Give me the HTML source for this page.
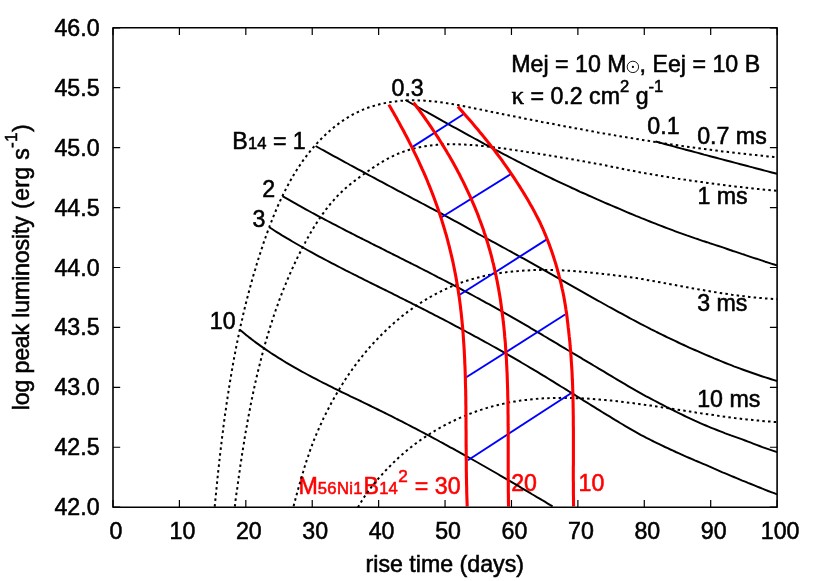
<!DOCTYPE html>
<html><head><meta charset="utf-8"><title>chart</title>
<style>html,body{margin:0;padding:0;background:#fff}body{width:830px;height:581px;position:relative;overflow:hidden;font-family:"Liberation Sans",sans-serif}</style></head>
<body>
<svg width="830" height="581" viewBox="0 0 830 581" style="position:absolute;left:0;top:0;will-change:transform;font-family:'Liberation Sans',sans-serif;font-size:23.2px" fill="#000" stroke="none">
<style>text{stroke-width:0.55px;stroke:#000}.r text{stroke:#ff0000}</style>
<defs><clipPath id="cp"><rect x="113.0" y="27.8" width="664.1" height="479.4"/></clipPath></defs>
<g class="r" fill="#ff0000">
<text x="298.4" y="493.7">M<tspan font-size="16.6" letter-spacing="0.35">56Ni1</tspan><tspan dx="0.7">B</tspan><tspan font-size="16.6" dx="0.3">14</tspan><tspan font-size="17.2" dy="-12.2" dx="0.4">2</tspan><tspan dy="12.2" dx="0.6"> = 30</tspan></text>
<text x="511.2" y="490.7">20</text>
<text x="578.6" y="490.7">10</text>
</g>
<g clip-path="url(#cp)" fill="none" stroke-linejoin="round">
<path d="M655.5 141.5L658.5 142.3L661.6 143.1L664.6 144.0L667.6 144.8L670.7 145.6L673.7 146.4L676.7 147.2L679.8 148.1L682.8 148.9L685.8 149.7L688.9 150.5L691.9 151.3L694.9 152.1L698.0 152.9L701.0 153.7L704.0 154.6L707.1 155.4L710.1 156.2L713.1 157.0L716.2 157.8L719.2 158.6L722.2 159.4L725.3 160.2L728.3 161.0L731.3 161.8L734.4 162.6L737.4 163.4L740.5 164.2L743.5 165.0L746.5 165.8L749.6 166.6L752.6 167.4L755.6 168.2L758.7 169.0L761.7 169.8L764.7 170.6L767.8 171.4L770.8 172.2L773.9 173.0L776.9 173.8" stroke="#000" stroke-width="1.95"/>
<path d="M405.4 100.0L408.1 101.5L410.7 103.0L413.4 104.5L416.0 106.0L418.7 107.5L421.3 109.0L423.9 110.5L426.6 111.9L429.2 113.4L431.9 114.9L434.6 116.4L437.2 117.9L439.9 119.4L442.5 120.9L445.2 122.3L447.8 123.8L450.5 125.3L453.2 126.8L455.8 128.2L458.5 129.7L461.2 131.2L463.8 132.6L466.5 134.1L469.2 135.6L471.8 137.0L474.5 138.5L477.2 139.9L479.9 141.4L482.5 142.8L485.2 144.3L487.9 145.7L490.6 147.1L493.3 148.6L496.0 150.0L498.6 151.4L501.3 152.9L504.0 154.3L506.7 155.7L509.4 157.1L512.1 158.5L514.8 159.9L517.5 161.3L520.2 162.7L522.9 164.1L525.6 165.5L528.4 166.9L531.1 168.3L533.8 169.7L536.5 171.0L539.2 172.4L541.9 173.7L544.7 175.1L547.4 176.4L550.1 177.7L552.8 179.0L555.6 180.3L558.3 181.6L561.0 182.9L563.8 184.2L566.5 185.4L569.3 186.7L572.0 188.0L574.7 189.2L577.5 190.5L580.2 191.8L583.0 193.0L585.8 194.2L588.5 195.5L591.3 196.7L594.0 197.9L596.8 199.2L599.6 200.4L602.4 201.6L605.1 202.8L607.9 204.0L610.7 205.2L613.5 206.3L616.2 207.5L619.0 208.7L621.8 209.9L624.6 211.1L627.4 212.3L630.2 213.5L633.0 214.6L635.8 215.8L638.6 216.9L641.4 218.1L644.2 219.2L647.1 220.4L649.9 221.5L652.7 222.6L655.5 223.7L658.4 224.8L661.2 225.9L664.0 227.0L666.9 228.1L669.7 229.1L672.5 230.2L675.4 231.3L678.2 232.3L681.1 233.3L683.9 234.3L686.8 235.4L689.7 236.4L692.5 237.4L695.4 238.4L698.3 239.3L701.1 240.3L704.0 241.3L706.9 242.2L709.8 243.2L712.7 244.1L715.6 245.1L718.4 246.0L721.3 246.9L724.2 247.9L727.2 249.0L730.1 250.0L733.0 251.0L735.9 251.9L738.8 252.9L741.7 253.9L744.7 254.8L747.6 255.8L750.5 256.8L753.5 257.8L756.4 258.7L759.3 259.7L762.3 260.7L765.2 261.7L768.2 262.6L771.2 263.6L774.1 264.5L777.1 265.4" stroke="#000" stroke-width="1.95"/>
<path d="M315.6 146.0L318.2 147.5L320.9 149.0L323.6 150.4L326.2 151.9L328.9 153.3L331.5 154.8L334.2 156.3L336.8 157.7L339.5 159.2L342.2 160.6L344.8 162.1L347.5 163.5L350.1 165.0L352.8 166.4L355.5 167.9L358.1 169.3L360.8 170.7L363.5 172.2L366.1 173.6L368.8 175.1L371.5 176.5L374.2 177.9L376.8 179.4L379.5 180.8L382.2 182.2L384.8 183.6L387.5 185.1L390.2 186.5L392.9 187.9L395.5 189.3L398.2 190.8L400.9 192.2L403.6 193.6L406.2 195.0L408.9 196.4L411.6 197.9L414.3 199.3L417.0 200.7L419.6 202.1L422.3 203.5L425.0 204.9L427.7 206.3L430.4 207.8L433.0 209.2L435.7 210.6L438.4 212.0L441.1 213.4L443.7 214.9L446.4 216.4L449.1 217.8L451.8 219.3L454.5 220.8L457.1 222.2L459.8 223.7L462.5 225.2L465.2 226.7L467.8 228.1L470.5 229.6L473.2 231.1L475.9 232.6L478.5 234.1L481.2 235.5L483.9 237.0L486.5 238.4L489.2 239.8L491.9 241.3L494.5 242.7L497.2 244.2L499.8 245.6L502.5 247.1L505.2 248.5L507.8 250.0L510.5 251.4L513.1 252.9L515.8 254.3L518.4 255.8L521.1 257.3L523.7 258.7L526.4 260.2L529.0 261.7L531.7 263.2L534.3 264.7L537.0 266.2L539.6 267.7L542.3 269.2L544.9 270.7L547.6 272.1L550.2 273.6L552.9 275.1L555.5 276.6L558.2 278.1L560.8 279.6L563.5 281.1L566.1 282.6L568.7 284.1L571.4 285.7L574.0 287.2L576.7 288.7L579.3 290.2L582.0 291.7L584.6 293.1L587.2 294.6L589.9 296.1L592.5 297.6L595.2 299.1L597.8 300.6L600.5 302.0L603.1 303.5L605.8 305.0L608.4 306.5L611.1 307.9L613.8 309.4L616.4 310.8L619.1 312.3L621.7 313.7L624.4 315.2L627.1 316.6L629.7 318.1L632.4 319.5L635.1 320.9L637.8 322.3L640.5 323.8L643.1 325.1L645.8 326.5L648.5 327.9L651.2 329.3L653.9 330.6L656.6 332.0L659.3 333.3L662.0 334.7L664.7 336.0L667.4 337.3L670.2 338.6L672.9 339.9L675.6 341.2L678.3 342.5L681.1 343.8L683.8 345.0L686.6 346.3L689.3 347.6L692.1 348.8L694.8 350.0L697.6 351.2L700.3 352.4L703.1 353.6L705.9 354.8L708.7 356.0L711.5 357.2L714.2 358.4L717.0 359.5L719.8 360.7L722.7 361.8L725.5 363.0L728.3 364.1L731.1 365.2L733.9 366.3L736.8 367.3L739.6 368.4L742.5 369.5L745.3 370.5L748.2 371.5L751.0 372.5L753.9 373.5L756.8 374.5L759.6 375.5L762.5 376.5L765.4 377.4L768.3 378.3L771.2 379.2L774.1 380.1L777.1 381.0" stroke="#000" stroke-width="1.95"/>
<path d="M282.5 196.1L285.1 197.7L287.8 199.2L290.4 200.7L293.0 202.2L295.7 203.7L298.3 205.2L301.0 206.6L303.6 208.1L306.3 209.6L308.9 211.0L311.6 212.5L314.3 213.9L316.9 215.3L319.6 216.8L322.3 218.2L324.9 219.6L327.6 221.0L330.3 222.4L333.0 223.8L335.7 225.2L338.4 226.6L341.1 228.0L343.7 229.4L346.4 230.8L349.1 232.2L351.8 233.5L354.5 234.9L357.2 236.3L359.9 237.7L362.6 239.0L365.3 240.4L368.0 241.7L370.7 243.1L373.4 244.5L376.1 245.8L378.9 247.2L381.6 248.5L384.3 249.9L387.0 251.3L389.7 252.6L392.4 254.0L395.1 255.3L397.8 256.7L400.5 258.1L403.2 259.4L405.9 260.8L408.6 262.2L411.3 263.5L414.0 264.9L416.7 266.2L419.4 267.6L422.1 269.0L424.8 270.4L427.5 271.7L430.2 273.1L432.9 274.5L435.5 275.9L438.2 277.3L440.9 278.6L443.6 280.0L446.3 281.4L449.0 282.8L451.7 284.2L454.3 285.6L457.0 287.0L459.7 288.4L462.4 289.9L465.0 291.3L467.7 292.7L470.4 294.1L473.0 295.5L475.7 297.0L478.4 298.4L481.0 299.9L483.7 301.3L486.3 302.8L489.0 304.2L491.6 305.7L494.3 307.2L496.9 308.6L499.6 310.1L502.2 311.6L504.8 313.1L507.5 314.6L510.1 316.1L512.7 317.6L515.4 319.1L518.0 320.6L520.6 322.1L523.2 323.7L525.8 325.2L528.5 326.7L531.1 328.3L533.7 329.8L536.3 331.3L538.9 332.9L541.5 334.4L544.1 336.0L546.7 337.5L549.3 339.1L551.9 340.6L554.5 342.2L557.1 343.7L559.7 345.3L562.3 346.9L564.9 348.4L567.5 350.0L570.2 351.5L572.8 353.1L575.4 354.6L578.0 356.2L580.6 357.7L583.2 359.3L585.8 360.8L588.4 362.4L591.0 363.9L593.6 365.5L596.2 367.0L598.8 368.6L601.4 370.1L604.1 371.7L606.7 373.3L609.3 374.9L611.9 376.4L614.5 378.0L617.2 379.6L619.8 381.1L622.4 382.7L625.0 384.2L627.7 385.8L630.3 387.3L633.0 388.8L635.6 390.4L638.2 391.9L640.9 393.4L643.5 394.8L646.2 396.3L648.9 397.7L651.5 399.1L654.2 400.5L656.9 401.9L659.5 403.3L662.2 404.7L664.9 406.1L667.6 407.5L670.3 408.8L673.0 410.2L675.7 411.5L678.4 412.9L681.1 414.2L683.8 415.5L686.5 416.8L689.3 418.1L692.0 419.4L694.7 420.7L697.5 421.9L700.2 423.2L703.0 424.3L705.8 425.5L708.5 426.7L711.3 427.8L714.1 428.9L716.9 430.0L719.7 431.1L722.5 432.2L725.3 433.3L728.1 434.3L730.9 435.4L733.7 436.4L736.6 437.4L739.4 438.4L742.3 439.4L745.1 440.5L748.0 441.6L750.9 442.7L753.7 443.8L756.6 444.9L759.5 446.0L762.4 447.1L765.3 448.1L768.3 449.1L771.2 450.1L774.1 451.1L777.1 452.1" stroke="#000" stroke-width="1.95"/>
<path d="M269.2 227.2L271.7 228.8L274.3 230.5L276.8 232.1L279.4 233.7L282.0 235.3L284.6 236.8L287.2 238.4L289.8 239.9L292.4 241.5L295.0 243.0L297.6 244.5L300.3 246.0L302.9 247.5L305.5 249.0L308.2 250.5L310.8 251.9L313.5 253.4L316.1 254.8L318.8 256.3L321.4 257.7L324.1 259.1L326.8 260.5L329.4 261.9L332.1 263.3L334.8 264.7L337.5 266.1L340.2 267.5L342.9 268.9L345.6 270.3L348.3 271.6L351.0 273.0L353.7 274.4L356.4 275.7L359.1 277.1L361.8 278.4L364.5 279.8L367.2 281.1L369.9 282.5L372.6 283.8L375.3 285.2L378.0 286.5L380.7 287.8L383.4 289.2L386.2 290.5L388.9 291.9L391.6 293.2L394.3 294.6L397.0 295.9L399.7 297.3L402.4 298.6L405.1 300.0L407.8 301.3L410.5 302.7L413.2 304.1L415.9 305.4L418.6 306.8L421.3 308.2L424.0 309.5L426.7 310.9L429.4 312.3L432.1 313.7L434.7 315.1L437.4 316.4L440.1 317.8L442.8 319.2L445.5 320.6L448.2 322.0L450.8 323.4L453.5 324.9L456.2 326.3L458.8 327.7L461.5 329.1L464.2 330.5L466.8 332.0L469.5 333.4L472.2 334.8L474.8 336.3L477.5 337.7L480.1 339.2L482.8 340.6L485.4 342.1L488.1 343.5L490.7 345.0L493.4 346.5L496.0 347.9L498.6 349.4L501.3 350.9L503.9 352.4L506.5 353.9L509.1 355.4L511.8 356.9L514.4 358.4L517.0 359.9L519.6 361.4L522.2 363.0L524.8 364.5L527.4 366.0L530.0 367.6L532.6 369.1L535.2 370.7L537.8 372.2L540.4 373.8L543.0 375.4L545.6 376.9L548.1 378.5L550.7 380.1L553.3 381.7L555.9 383.3L558.4 384.9L561.0 386.5L563.6 388.0L566.2 389.6L568.7 391.2L571.3 392.8L573.9 394.4L576.4 396.0L579.0 397.6L581.6 399.3L584.1 400.9L586.7 402.4L589.3 404.0L591.8 405.6L594.4 407.2L597.0 408.8L599.6 410.4L602.1 412.0L604.7 413.6L607.3 415.2L609.9 416.7L612.5 418.3L615.0 419.9L617.6 421.4L620.2 423.0L622.8 424.5L625.4 426.1L628.0 427.6L630.6 429.1L633.3 430.6L635.9 432.1L638.5 433.6L641.1 435.1L643.8 436.4L646.4 437.8L649.1 439.1L651.7 440.5L654.4 441.8L657.0 443.1L659.7 444.4L662.3 445.7L665.0 447.0L667.7 448.2L670.4 449.5L673.1 450.7L675.8 452.0L678.5 453.2L681.2 454.4L683.9 455.6L686.6 456.8L689.4 458.0L692.1 459.2L694.8 460.4L697.6 461.5L700.3 462.6L703.1 463.8L705.8 464.9L708.6 466.2L711.4 467.4L714.2 468.7L717.0 469.9L719.7 471.1L722.5 472.3L725.3 473.4L728.2 474.6L731.0 475.8L733.8 477.0L736.6 478.2L739.5 479.4L742.3 480.6L745.2 481.7L748.0 482.9L750.9 484.0L753.8 485.1L756.6 486.3L759.5 487.5L762.4 488.7L765.3 489.8L768.2 491.0L771.1 492.1L774.1 493.2L777.0 494.3" stroke="#000" stroke-width="1.95"/>
<path d="M239.4 329.4L241.7 331.3L244.1 333.3L246.4 335.2L248.8 337.1L251.2 338.9L253.6 340.8L256.0 342.6L258.5 344.4L260.9 346.1L263.4 347.9L265.9 349.6L268.4 351.3L270.9 353.0L273.4 354.6L276.0 356.2L278.5 357.9L281.1 359.4L283.6 361.0L286.2 362.6L288.8 364.1L291.4 365.6L294.0 367.1L296.7 368.6L299.3 370.1L301.9 371.6L304.6 373.0L307.3 374.5L309.9 375.9L312.6 377.3L315.3 378.7L318.0 380.1L320.6 381.5L323.3 382.9L326.0 384.2L328.8 385.6L331.5 386.9L334.2 388.3L336.9 389.6L339.6 391.0L342.3 392.3L345.1 393.6L347.8 394.9L350.5 396.3L353.3 397.6L356.0 398.9L358.7 400.2L361.5 401.5L364.2 402.9L366.9 404.2L369.7 405.5L372.4 406.8L375.1 408.2L377.8 409.5L380.6 410.8L383.3 412.2L386.0 413.5L388.7 414.9L391.4 416.2L394.1 417.6L396.8 419.0L399.5 420.3L402.2 421.7L404.9 423.1L407.6 424.5L410.3 425.9L413.0 427.3L415.7 428.7L418.4 430.1L421.0 431.5L423.7 432.9L426.4 434.3L429.1 435.7L431.7 437.2L434.4 438.6L437.1 440.0L439.7 441.5L442.4 442.9L445.0 444.4L447.7 445.8L450.3 447.3L453.0 448.7L455.6 450.2L458.3 451.6L460.9 453.1L463.6 454.6L466.2 456.1L468.9 457.5L471.5 459.0L474.1 460.5L476.8 462.0L479.4 463.5L482.0 465.0L484.7 466.5L487.3 468.0L489.9 469.5L492.5 471.0L495.2 472.5L497.8 474.0L500.4 475.6L503.0 477.1L505.6 478.6L508.2 480.1L510.9 481.6L513.5 483.2L516.1 484.7L518.7 486.2L521.3 487.8L523.9 489.3L526.5 490.9L529.1 492.4L531.7 494.0L534.3 495.5L536.9 497.1L539.6 498.6L542.2 500.2L544.8 501.7L547.4 503.3L550.0 504.9L552.6 506.4" stroke="#000" stroke-width="1.95"/>
<path d="M214.7 506.6L215.0 503.6L215.3 500.5L215.6 497.5L215.9 494.5L216.2 491.5L216.5 488.5L216.8 485.5L217.1 482.4L217.4 479.4L217.7 476.4L218.0 473.4L218.3 470.4L218.7 467.4L219.0 464.4L219.3 461.4L219.7 458.4L220.0 455.3L220.3 452.3L220.7 449.3L221.0 446.3L221.4 443.3L221.8 440.3L222.1 437.3L222.5 434.3L222.9 431.4L223.2 428.4L223.6 425.4L224.0 422.4L224.4 419.4L224.8 416.4L225.2 413.4L225.7 410.4L226.1 407.4L226.5 404.5L226.9 401.5L227.4 398.5L227.8 395.5L228.3 392.5L228.7 389.6L229.2 386.6L229.7 383.6L230.2 380.6L230.7 377.7L231.2 374.7L231.7 371.7L232.2 368.8L232.7 365.8L233.2 362.9L233.8 359.9L234.3 356.9L234.9 354.0L235.4 351.0L236.0 348.1L236.6 345.1L237.2 342.2L237.8 339.2L238.4 336.3L239.0 333.4L239.6 330.4L240.3 327.5L240.9 324.5L241.6 321.6L242.3 318.7L242.9 315.7L243.6 312.8L244.3 309.9L245.0 307.0L245.7 304.0L246.5 301.1L247.2 298.2L248.0 295.3L248.7 292.4L249.5 289.5L250.3 286.6L251.1 283.6L251.9 280.7L252.7 277.8L253.5 274.9L254.4 272.0L255.3 269.2L256.1 266.3L257.0 263.4L257.9 260.5L258.8 257.6L259.7 254.7L260.7 251.8L261.6 249.0L262.6 246.1L263.5 243.2L264.5 240.3L265.5 237.5L266.5 234.6L267.6 231.7L268.6 228.9L269.7 226.0L270.8 223.2L271.9 220.4L273.0 217.5L274.1 214.7L275.3 211.9L276.5 209.1L277.7 206.3L278.9 203.5L280.2 200.8L281.4 198.0L282.8 195.3L284.1 192.5L285.5 189.8L286.8 187.1L288.3 184.5L289.7 181.8L291.2 179.2L292.7 176.5L294.3 173.9L295.9 171.4L297.5 168.8L299.2 166.3L300.9 163.7L302.6 161.2L304.4 158.8L306.2 156.3L308.0 153.9L309.9 151.5L311.9 149.2L313.8 146.8L315.8 144.6L317.9 142.3L320.0 140.1L322.1 137.9L324.3 135.8L326.5 133.7L328.7 131.7L331.0 129.7L333.3 127.8L335.6 125.9L338.0 124.1L340.4 122.3L342.9 120.6L345.4 118.9L347.9 117.4L350.4 115.9L353.0 114.4L355.6 113.1L358.3 111.8L361.0 110.6L363.7 109.4L366.4 108.3L369.2 107.3L372.0 106.4L374.8 105.6L377.6 104.8L380.5 104.0L383.4 103.4L386.3 102.8L389.2 102.3L392.1 101.8L395.1 101.4L398.0 101.1L401.0 100.8L404.0 100.6L407.0 100.4L410.0 100.3L413.0 100.3L416.0 100.3L419.0 100.4L422.0 100.5L425.0 100.7L428.0 100.9L431.0 101.2L434.1 101.5L437.1 101.8L440.1 102.2L443.1 102.6L446.1 103.1L449.1 103.5L452.1 104.0L455.2 104.6L458.2 105.1L461.2 105.7L464.2 106.3L467.2 106.9L470.2 107.5L473.2 108.1L476.2 108.7L479.2 109.3L482.2 109.9L485.2 110.5L488.2 111.1L491.2 111.8L494.2 112.4L497.2 113.0L500.2 113.6L503.2 114.2L506.1 114.8L509.1 115.4L512.1 116.0L515.1 116.6L518.0 117.2L521.0 117.8L524.0 118.4L527.0 119.0L529.9 119.5L532.9 120.1L535.9 120.7L538.8 121.3L541.8 121.9L544.7 122.4L547.7 123.0L550.7 123.6L553.6 124.1L556.6 124.7L559.5 125.3L562.5 125.8L565.4 126.4L568.4 126.9L571.4 127.5L574.3 128.1L577.3 128.6L580.2 129.1L583.2 129.7L586.1 130.2L589.1 130.8L592.0 131.3L595.0 131.8L597.9 132.4L600.9 132.9L603.8 133.4L606.8 133.9L609.7 134.4L612.7 134.9L615.6 135.5L618.6 136.0L621.5 136.5L624.5 137.0L627.4 137.5L630.4 137.9L633.3 138.4L636.3 138.9L639.3 139.4L642.2 139.9L645.2 140.4L648.1 140.8L651.1 141.3L654.1 141.8L657.0 142.2L660.0 142.7L662.9 143.1L665.9 143.6L668.9 144.0L671.8 144.5L674.8 144.9L677.8 145.3L680.8 145.8L683.7 146.2L686.7 146.6L689.7 147.0L692.7 147.4L695.7 147.9L698.6 148.3L701.6 148.7L704.6 149.1L707.6 149.5L710.6 149.8L713.6 150.2L716.6 150.6L719.6 151.0L722.6 151.4L725.6 151.7L728.6 152.1L731.6 152.4L734.7 152.8L737.7 153.1L740.7 153.5L743.7 153.8L746.7 154.2L749.8 154.5L752.8 154.8L755.8 155.1L758.9 155.4L761.9 155.7L765.0 156.1L768.0 156.4L771.1 156.6L774.1 156.9L777.2 157.2" stroke="#000" stroke-width="2.0" stroke-dasharray="2.5 3.2"/>
<path d="M234.8 506.5L235.2 503.5L235.5 500.5L235.9 497.5L236.3 494.5L236.7 491.6L237.2 488.6L237.6 485.6L238.0 482.6L238.4 479.6L238.8 476.7L239.2 473.7L239.7 470.7L240.1 467.7L240.5 464.7L241.0 461.7L241.4 458.8L241.9 455.8L242.3 452.8L242.8 449.8L243.3 446.8L243.8 443.8L244.2 440.9L244.7 437.9L245.2 434.9L245.7 431.9L246.2 429.0L246.8 426.0L247.3 423.0L247.8 420.0L248.4 417.1L248.9 414.1L249.5 411.1L250.1 408.2L250.6 405.2L251.2 402.3L251.8 399.3L252.4 396.3L253.0 393.4L253.7 390.4L254.3 387.5L254.9 384.5L255.6 381.6L256.3 378.7L256.9 375.7L257.6 372.8L258.3 369.9L259.1 366.9L259.8 364.0L260.5 361.1L261.3 358.2L262.0 355.3L262.8 352.3L263.6 349.4L264.4 346.5L265.2 343.6L266.0 340.7L266.9 337.9L267.7 335.0L268.6 332.1L269.5 329.2L270.4 326.4L271.3 323.5L272.2 320.6L273.1 317.8L274.1 314.9L275.1 312.1L276.0 309.2L277.1 306.4L278.1 303.6L279.1 300.7L280.2 297.9L281.2 295.1L282.3 292.3L283.4 289.5L284.5 286.7L285.7 283.9L286.8 281.1L288.0 278.4L289.2 275.6L290.4 272.8L291.6 270.1L292.9 267.3L294.1 264.6L295.4 261.9L296.7 259.1L298.0 256.4L299.4 253.7L300.8 251.0L302.1 248.3L303.5 245.6L305.0 242.9L306.4 240.2L307.9 237.6L309.4 234.9L310.9 232.3L312.4 229.7L314.0 227.1L315.6 224.5L317.2 222.0L318.9 219.5L320.6 217.0L322.3 214.5L324.1 212.1L325.8 209.7L327.7 207.3L329.5 205.0L331.4 202.7L333.4 200.5L335.3 198.3L337.3 196.1L339.4 194.0L341.5 192.0L343.6 190.0L345.8 188.0L348.1 186.1L350.3 184.3L352.6 182.4L355.0 180.6L357.4 178.8L359.8 177.0L362.3 175.2L364.8 173.5L367.3 171.7L369.8 169.9L372.4 168.1L375.0 166.4L377.7 164.6L380.3 163.0L383.0 161.3L385.7 159.8L388.4 158.3L391.1 156.9L393.9 155.6L396.6 154.3L399.4 153.2L402.2 152.1L405.0 151.1L407.9 150.2L410.7 149.4L413.6 148.6L416.4 147.9L419.3 147.3L422.2 146.7L425.1 146.2L428.0 145.8L431.0 145.4L433.9 145.1L436.8 144.8L439.8 144.6L442.7 144.4L445.7 144.3L448.7 144.2L451.7 144.2L454.7 144.2L457.6 144.3L460.6 144.4L463.7 144.5L466.7 144.7L469.7 144.9L472.7 145.1L475.7 145.3L478.7 145.6L481.7 145.9L484.8 146.2L487.8 146.5L490.8 146.9L493.8 147.3L496.8 147.6L499.8 148.0L502.8 148.4L505.9 148.8L508.9 149.3L511.9 149.7L514.9 150.1L517.9 150.5L520.9 151.0L523.9 151.4L526.9 151.9L529.9 152.3L532.8 152.8L535.8 153.3L538.8 153.7L541.8 154.2L544.8 154.7L547.8 155.2L550.7 155.7L553.7 156.2L556.7 156.7L559.7 157.2L562.6 157.7L565.6 158.2L568.6 158.7L571.5 159.2L574.5 159.7L577.5 160.3L580.5 160.8L583.4 161.3L586.4 161.9L589.3 162.4L592.3 162.9L595.3 163.5L598.2 164.0L601.2 164.5L604.1 165.1L607.1 165.7L610.1 166.3L613.0 166.9L616.0 167.5L618.9 168.1L621.9 168.7L624.9 169.3L627.8 169.9L630.8 170.4L633.7 171.0L636.7 171.6L639.6 172.2L642.6 172.7L645.6 173.3L648.5 173.8L651.5 174.3L654.4 174.8L657.4 175.3L660.4 175.9L663.3 176.3L666.3 176.8L669.3 177.3L672.2 177.7L675.2 178.2L678.2 178.7L681.1 179.1L684.1 179.6L687.1 180.0L690.0 180.4L693.0 180.9L696.0 181.3L699.0 181.7L701.9 182.1L704.9 182.5L707.9 182.9L710.9 183.3L713.9 183.7L716.8 184.1L719.8 184.5L722.8 184.9L725.8 185.3L728.8 185.7L731.8 186.1L734.8 186.4L737.8 186.8L740.8 187.1L743.8 187.5L746.8 187.8L749.8 188.2L752.8 188.5L755.9 188.8L758.9 189.1L761.9 189.4L764.9 189.7L767.9 189.9L771.0 190.2L774.0 190.4L777.0 190.7" stroke="#000" stroke-width="2.0" stroke-dasharray="2.5 3.2"/>
<path d="M293.6 506.2L294.3 503.3L295.1 500.5L295.8 497.6L296.6 494.7L297.4 491.8L298.2 489.0L299.0 486.1L299.8 483.2L300.7 480.3L301.5 477.5L302.3 474.6L303.2 471.7L304.0 468.9L304.9 466.0L305.8 463.2L306.7 460.3L307.7 457.5L308.7 454.6L309.6 451.8L310.6 449.0L311.7 446.1L312.7 443.3L313.8 440.5L314.9 437.7L316.1 434.9L317.3 432.1L318.5 429.4L319.7 426.6L321.0 423.8L322.2 421.1L323.5 418.3L324.9 415.6L326.2 412.9L327.6 410.2L329.0 407.5L330.4 404.8L331.8 402.1L333.3 399.5L334.8 396.8L336.3 394.2L337.8 391.6L339.4 389.0L340.9 386.4L342.6 383.8L344.2 381.2L345.8 378.7L347.5 376.2L349.2 373.7L351.0 371.2L352.7 368.7L354.5 366.2L356.3 363.8L358.2 361.3L360.1 358.9L362.0 356.5L363.9 354.2L365.8 351.8L367.8 349.5L369.8 347.2L371.9 344.9L373.9 342.6L376.0 340.4L378.1 338.2L380.2 336.0L382.4 333.8L384.6 331.7L386.8 329.6L389.0 327.5L391.2 325.5L393.5 323.4L395.8 321.4L398.1 319.5L400.5 317.5L402.8 315.6L405.2 313.8L407.6 311.9L410.1 310.1L412.5 308.4L415.0 306.6L417.5 304.9L420.0 303.3L422.5 301.6L425.1 300.1L427.6 298.5L430.2 297.0L432.8 295.5L435.5 294.1L438.1 292.7L440.8 291.4L443.5 290.0L446.2 288.8L448.9 287.6L451.6 286.4L454.4 285.3L457.1 284.2L459.9 283.1L462.7 282.1L465.5 281.2L468.4 280.3L471.2 279.4L474.1 278.6L476.9 277.8L479.8 277.1L482.7 276.4L485.6 275.7L488.6 275.1L491.5 274.5L494.4 274.0L497.4 273.5L500.4 273.0L503.3 272.6L506.3 272.2L509.3 271.9L512.3 271.5L515.3 271.2L518.3 271.0L521.3 270.7L524.4 270.5L527.4 270.4L530.4 270.2L533.5 270.1L536.5 270.0L539.5 270.0L542.6 270.0L545.6 270.0L548.7 270.0L551.7 270.0L554.8 270.1L557.8 270.2L560.9 270.3L563.9 270.5L567.0 270.6L570.0 270.8L573.1 271.0L576.1 271.3L579.2 271.5L582.2 271.8L585.2 272.0L588.3 272.3L591.3 272.7L594.3 273.0L597.3 273.3L600.4 273.7L603.4 274.0L606.4 274.3L609.4 274.6L612.4 275.0L615.4 275.4L618.4 275.7L621.4 276.1L624.4 276.5L627.4 276.9L630.4 277.3L633.4 277.7L636.4 278.1L639.4 278.6L642.3 279.1L645.3 279.6L648.3 280.2L651.3 280.7L654.3 281.2L657.2 281.8L660.2 282.3L663.2 282.9L666.2 283.4L669.1 284.0L672.1 284.6L675.1 285.1L678.1 285.7L681.1 286.2L684.0 286.8L687.0 287.3L690.0 287.8L693.0 288.4L695.9 288.9L698.9 289.4L701.9 289.9L704.9 290.4L707.8 290.9L710.8 291.4L713.8 291.9L716.8 292.4L719.8 292.9L722.8 293.4L725.7 293.8L728.7 294.2L731.7 294.7L734.7 295.1L737.7 295.5L740.7 295.9L743.7 296.2L746.7 296.6L749.7 296.9L752.7 297.3L755.7 297.6L758.7 297.9L761.7 298.1L764.8 298.4L767.8 298.6L770.8 298.8L773.8 299.0L776.9 299.2" stroke="#000" stroke-width="2.0" stroke-dasharray="2.5 3.2"/>
<path d="M357.9 507.4L359.5 504.7L361.1 502.1L362.7 499.4L364.4 496.8L366.1 494.3L368.0 491.7L369.8 489.2L371.7 486.7L373.6 484.3L375.6 481.9L377.6 479.5L379.6 477.1L381.7 474.8L383.8 472.5L385.9 470.2L388.1 468.0L390.3 465.8L392.4 463.6L394.6 461.5L396.8 459.4L399.0 457.3L401.3 455.3L403.6 453.3L405.9 451.3L408.2 449.4L410.6 447.5L413.0 445.6L415.4 443.8L417.9 442.0L420.3 440.2L422.8 438.5L425.3 436.8L427.9 435.1L430.4 433.5L433.0 431.9L435.6 430.4L438.2 428.8L440.8 427.4L443.5 425.9L446.2 424.5L448.9 423.1L451.6 421.8L454.3 420.5L457.0 419.2L459.8 417.9L462.6 416.7L465.4 415.6L468.2 414.5L471.0 413.4L473.8 412.3L476.6 411.3L479.5 410.3L482.4 409.4L485.3 408.5L488.1 407.6L491.0 406.8L493.9 406.0L496.9 405.3L499.8 404.5L502.7 403.9L505.7 403.2L508.6 402.6L511.6 402.1L514.5 401.6L517.5 401.1L520.5 400.6L523.5 400.2L526.5 399.9L529.5 399.5L532.5 399.2L535.5 398.9L538.5 398.7L541.5 398.5L544.5 398.3L547.5 398.2L550.5 398.1L553.6 398.0L556.6 397.9L559.6 397.9L562.7 397.8L565.7 397.9L568.7 397.9L571.8 398.0L574.8 398.1L577.9 398.2L580.9 398.3L584.0 398.4L587.0 398.6L590.1 398.8L593.1 399.0L596.1 399.2L599.2 399.5L602.2 399.8L605.3 400.0L608.3 400.3L611.4 400.6L614.4 401.0L617.5 401.3L620.5 401.6L623.5 402.0L626.6 402.4L629.6 402.7L632.6 403.1L635.7 403.5L638.7 403.9L641.7 404.3L644.7 404.8L647.8 405.2L650.8 405.6L653.8 406.1L656.8 406.5L659.8 407.0L662.8 407.4L665.8 407.9L668.8 408.3L671.8 408.8L674.8 409.2L677.8 409.7L680.8 410.2L683.8 410.6L686.8 411.1L689.8 411.5L692.8 412.0L695.8 412.5L698.8 412.9L701.8 413.4L704.8 413.8L707.8 414.3L710.8 414.7L713.8 415.1L716.8 415.6L719.8 416.0L722.8 416.4L725.8 416.8L728.8 417.2L731.8 417.6L734.8 418.0L737.7 418.3L740.7 418.7L743.7 419.1L746.7 419.4L749.7 419.7L752.7 420.0L755.7 420.3L758.7 420.6L761.7 420.9L764.7 421.2L767.8 421.4L770.8 421.6L773.8 421.9L776.8 422.1" stroke="#000" stroke-width="2.0" stroke-dasharray="2.5 3.2"/>
<path d="M413.0 146.6L463.4 114.3" stroke="#0000ff" stroke-width="1.9"/>
<path d="M441.5 217.3L511.3 173.7" stroke="#0000ff" stroke-width="1.9"/>
<path d="M459.7 294.8L547.6 238.9" stroke="#0000ff" stroke-width="1.9"/>
<path d="M465.5 377.8L565.1 314.5" stroke="#0000ff" stroke-width="1.9"/>
<path d="M467.9 460.2L571.0 393.3" stroke="#0000ff" stroke-width="1.9"/>
<path d="M388.8 104.7L390.4 107.3L391.9 109.9L393.4 112.6L394.9 115.2L396.4 117.8L397.8 120.5L399.3 123.1L400.7 125.8L402.2 128.5L403.6 131.1L405.0 133.8L406.5 136.5L407.9 139.2L409.2 141.9L410.6 144.6L412.0 147.4L413.3 150.1L414.6 152.8L416.0 155.6L417.3 158.3L418.6 161.1L419.8 163.8L421.1 166.6L422.3 169.4L423.6 172.1L424.8 174.9L426.0 177.7L427.2 180.5L428.3 183.3L429.5 186.1L430.6 189.0L431.7 191.8L432.8 194.6L433.9 197.5L434.9 200.3L436.0 203.2L437.0 206.0L438.0 208.9L439.0 211.8L439.9 214.6L440.9 217.5L441.8 220.4L442.7 223.3L443.6 226.2L444.5 229.1L445.3 232.0L446.2 234.9L447.0 237.8L447.8 240.8L448.5 243.7L449.3 246.6L450.0 249.6L450.7 252.5L451.4 255.4L452.1 258.4L452.8 261.4L453.4 264.3L454.0 267.3L454.6 270.2L455.2 273.2L455.8 276.2L456.3 279.2L456.8 282.1L457.3 285.1L457.8 288.1L458.3 291.1L458.7 294.1L459.2 297.1L459.6 300.1L460.0 303.1L460.4 306.1L460.7 309.1L461.1 312.1L461.4 315.1L461.7 318.2L462.0 321.2L462.3 324.2L462.6 327.2L462.8 330.2L463.1 333.3L463.3 336.3L463.5 339.3L463.7 342.4L463.9 345.4L464.1 348.4L464.3 351.5L464.4 354.5L464.6 357.6L464.7 360.6L464.8 363.6L465.0 366.7L465.1 369.7L465.2 372.8L465.3 375.8L465.4 378.9L465.4 381.9L465.5 385.0L465.6 388.0L465.7 391.1L465.7 394.1L465.8 397.2L465.8 400.2L465.8 403.3L465.9 406.3L465.9 409.4L465.9 412.4L466.0 415.4L466.0 418.5L466.0 421.5L466.0 424.6L466.0 427.6L466.1 430.7L466.1 433.7L466.1 436.8L466.1 439.8L466.1 442.9L466.1 445.9L466.2 449.0L466.2 452.0L466.2 455.0L466.2 458.1L466.3 461.1L466.3 464.1L466.3 467.2L466.3 470.2L466.4 473.2L466.4 476.3L466.5 479.3L466.5 482.3L466.6 485.3L466.7 488.4L466.7 491.4L466.8 494.4L466.9 497.4L467.0 500.4L467.1 503.4L467.2 506.4" stroke="#ff0000" stroke-width="3.1"/>
<path d="M413.5 102.6L415.4 105.0L417.2 107.5L419.0 109.9L420.8 112.4L422.6 114.9L424.4 117.4L426.1 119.9L427.9 122.4L429.6 124.9L431.3 127.4L433.0 130.0L434.7 132.5L436.4 135.1L438.1 137.6L439.7 140.2L441.3 142.8L442.9 145.4L444.5 148.0L446.1 150.6L447.6 153.2L449.2 155.8L450.7 158.5L452.2 161.1L453.7 163.8L455.2 166.5L456.6 169.1L458.0 171.8L459.5 174.5L460.8 177.2L462.2 179.9L463.6 182.6L464.9 185.4L466.2 188.1L467.5 190.8L468.8 193.6L470.1 196.3L471.3 199.1L472.5 201.9L473.7 204.7L474.9 207.4L476.0 210.2L477.2 213.0L478.3 215.9L479.3 218.7L480.4 221.5L481.4 224.3L482.5 227.2L483.5 230.0L484.4 232.9L485.4 235.7L486.3 238.6L487.2 241.5L488.1 244.4L488.9 247.3L489.8 250.2L490.6 253.1L491.4 256.0L492.1 258.9L492.8 261.8L493.6 264.7L494.2 267.7L494.9 270.6L495.6 273.5L496.2 276.5L496.8 279.5L497.4 282.4L497.9 285.4L498.5 288.3L499.0 291.3L499.5 294.3L500.0 297.3L500.5 300.3L500.9 303.3L501.3 306.3L501.7 309.3L502.1 312.3L502.5 315.3L502.9 318.3L503.2 321.3L503.6 324.3L503.9 327.3L504.2 330.4L504.5 333.4L504.7 336.4L505.0 339.5L505.3 342.5L505.5 345.5L505.7 348.6L505.9 351.6L506.1 354.6L506.3 357.7L506.5 360.7L506.6 363.8L506.8 366.8L506.9 369.9L507.1 372.9L507.2 376.0L507.3 379.1L507.4 382.1L507.5 385.2L507.6 388.2L507.7 391.3L507.7 394.3L507.8 397.4L507.9 400.4L507.9 403.5L508.0 406.6L508.0 409.6L508.0 412.7L508.1 415.7L508.1 418.8L508.1 421.8L508.1 424.9L508.2 427.9L508.2 431.0L508.2 434.0L508.2 437.1L508.2 440.1L508.2 443.2L508.2 446.2L508.2 449.3L508.2 452.3L508.2 455.3L508.2 458.4L508.2 461.4L508.2 464.4L508.2 467.4L508.2 470.4L508.2 473.5L508.2 476.5L508.2 479.5L508.3 482.5L508.3 485.5L508.3 488.5L508.3 491.5L508.4 494.5L508.4 497.5L508.4 500.4L508.5 503.4L508.5 506.4" stroke="#ff0000" stroke-width="3.1"/>
<path d="M457.9 106.6L459.9 108.9L461.9 111.1L463.9 113.4L465.9 115.7L467.9 118.0L469.9 120.3L471.9 122.6L473.9 124.9L475.8 127.2L477.8 129.5L479.7 131.9L481.7 134.2L483.6 136.6L485.5 139.0L487.4 141.4L489.3 143.8L491.2 146.2L493.1 148.6L495.0 151.0L496.8 153.5L498.6 155.9L500.5 158.4L502.3 160.8L504.0 163.3L505.8 165.8L507.6 168.3L509.3 170.8L511.0 173.3L512.7 175.9L514.4 178.4L516.1 181.0L517.7 183.5L519.4 186.1L521.0 188.7L522.6 191.3L524.2 193.9L525.8 196.5L527.3 199.1L528.9 201.8L530.4 204.4L531.9 207.1L533.4 209.7L534.8 212.4L536.2 215.1L537.6 217.8L539.0 220.5L540.3 223.2L541.5 226.0L542.8 228.7L544.0 231.5L545.1 234.2L546.3 237.0L547.4 239.8L548.5 242.6L549.6 245.4L550.6 248.2L551.6 251.0L552.6 253.9L553.5 256.7L554.4 259.6L555.3 262.4L556.2 265.3L557.0 268.2L557.8 271.1L558.6 274.0L559.3 276.9L560.1 279.8L560.8 282.7L561.5 285.7L562.1 288.6L562.8 291.5L563.4 294.5L564.0 297.5L564.5 300.4L565.0 303.4L565.5 306.4L565.9 309.3L566.4 312.3L566.8 315.3L567.2 318.3L567.5 321.3L567.9 324.3L568.2 327.4L568.6 330.4L568.9 333.4L569.2 336.4L569.6 339.5L569.9 342.5L570.1 345.5L570.4 348.6L570.7 351.6L570.9 354.7L571.1 357.7L571.3 360.8L571.5 363.8L571.7 366.9L571.9 370.0L572.1 373.0L572.2 376.1L572.3 379.2L572.5 382.2L572.6 385.3L572.7 388.4L572.8 391.4L572.9 394.5L573.0 397.6L573.0 400.6L573.1 403.7L573.1 406.8L573.2 409.8L573.2 412.9L573.3 416.0L573.3 419.0L573.3 422.1L573.3 425.1L573.4 428.2L573.4 431.3L573.4 434.3L573.4 437.4L573.4 440.4L573.4 443.5L573.4 446.5L573.4 449.5L573.4 452.6L573.4 455.6L573.4 458.6L573.4 461.7L573.4 464.7L573.3 467.7L573.3 470.7L573.3 473.7L573.3 476.7L573.3 479.7L573.4 482.7L573.4 485.7L573.4 488.6L573.4 491.6L573.4 494.6L573.5 497.5L573.5 500.5L573.5 503.4L573.6 506.4" stroke="#ff0000" stroke-width="3.1"/>
</g>
<rect x="113.0" y="27.8" width="664.1" height="479.4" fill="none" stroke="#000" stroke-width="1.6" stroke-linejoin="round"/>
<path d="M113.00 507.2v-7.2M113.00 27.8v7.2M179.41 507.2v-7.2M179.41 27.8v7.2M245.82 507.2v-7.2M245.82 27.8v7.2M312.23 507.2v-7.2M312.23 27.8v7.2M378.64 507.2v-7.2M378.64 27.8v7.2M445.05 507.2v-7.2M445.05 27.8v7.2M511.46 507.2v-7.2M511.46 27.8v7.2M577.87 507.2v-7.2M577.87 27.8v7.2M644.28 507.2v-7.2M644.28 27.8v7.2M710.69 507.2v-7.2M710.69 27.8v7.2M777.10 507.2v-7.2M777.10 27.8v7.2M113.0 27.80h7.2M777.1 27.80h-7.2M113.0 87.72h7.2M777.1 87.72h-7.2M113.0 147.65h7.2M777.1 147.65h-7.2M113.0 207.57h7.2M777.1 207.57h-7.2M113.0 267.50h7.2M777.1 267.50h-7.2M113.0 327.43h7.2M777.1 327.43h-7.2M113.0 387.35h7.2M777.1 387.35h-7.2M113.0 447.27h7.2M777.1 447.27h-7.2M113.0 507.20h7.2M777.1 507.20h-7.2" stroke="#000" stroke-width="1.2" fill="none"/>
<text x="116.0" y="538.9" text-anchor="middle">0</text>
<text x="182.4" y="538.9" text-anchor="middle">10</text>
<text x="248.8" y="538.9" text-anchor="middle">20</text>
<text x="315.2" y="538.9" text-anchor="middle">30</text>
<text x="381.6" y="538.9" text-anchor="middle">40</text>
<text x="448.1" y="538.9" text-anchor="middle">50</text>
<text x="514.5" y="538.9" text-anchor="middle">60</text>
<text x="580.9" y="538.9" text-anchor="middle">70</text>
<text x="647.3" y="538.9" text-anchor="middle">80</text>
<text x="713.7" y="538.9" text-anchor="middle">90</text>
<text x="780.1" y="538.9" text-anchor="middle">100</text>
<text x="99.6" y="35.8" text-anchor="end">46.0</text>
<text x="99.6" y="95.7" text-anchor="end">45.5</text>
<text x="99.6" y="155.7" text-anchor="end">45.0</text>
<text x="99.6" y="215.6" text-anchor="end">44.5</text>
<text x="99.6" y="275.5" text-anchor="end">44.0</text>
<text x="99.6" y="335.4" text-anchor="end">43.5</text>
<text x="99.6" y="395.3" text-anchor="end">43.0</text>
<text x="99.6" y="455.3" text-anchor="end">42.5</text>
<text x="99.6" y="515.2" text-anchor="end">42.0</text>
<text x="444.8" y="571.6" text-anchor="middle">rise time (days)</text>
<text transform="translate(28.8,410.3) rotate(-90)" letter-spacing="-0.17">log peak luminosity</text>
<text transform="translate(28.8,124.0) rotate(-90)" text-anchor="end" letter-spacing="0.3">(erg s<tspan font-size="17.2" dy="-11.5">-1</tspan><tspan dy="11.5">)</tspan></text>
<text x="511.2" y="71.6">M<tspan>ej = 10 M</tspan></text>
<circle cx="632.9" cy="66.9" r="5.7" fill="none" stroke="#000" stroke-width="0.9"/><circle cx="632.9" cy="66.9" r="1.1"/>
<text x="639.6" y="71.6">, Eej = 10 B</text>
<text x="511.4" y="104.0"><tspan font-family="'Liberation Serif',serif" font-size="25">κ</tspan> = 0.2 cm<tspan font-size="16.6" dy="-11.8">2</tspan><tspan dy="11.8"> g</tspan><tspan font-size="16.6" dy="-11.8">-1</tspan></text>
<text x="391.5" y="95.5">0.3</text>
<text x="647.3" y="134.1">0.1</text>
<text x="697.2" y="143.5">0.7 ms</text>
<text x="697.4" y="204">1 ms</text>
<text x="697.2" y="311">3 ms</text>
<text x="697.2" y="407">10 ms</text>
<text x="232.2" y="148.9">B<tspan font-size="16.6" dx="0.3">14</tspan><tspan> = 1</tspan></text>
<text x="262.3" y="197.2">2</text>
<text x="252.5" y="227.1">3</text>
<text x="209.8" y="329.1">10</text>
</svg>
</body></html>
